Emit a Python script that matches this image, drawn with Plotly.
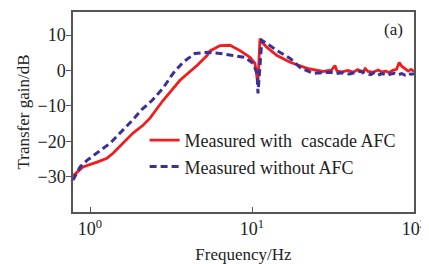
import plotly.graph_objects as go

# Measured with cascade AFC (red)
freq_with = [0.785, 0.905, 1.105, 1.273, 1.387, 1.598, 1.842, 2.124, 2.346, 2.822, 3.593,
             4.576, 5.274, 5.51, 6.35, 7.31, 8.43, 9.72, 10.43, 10.74, 10.89, 11.2, 11.5,
             12.38, 14.27, 17.2, 21.9, 27.4, 29, 31, 32.5, 33.5, 36, 39, 42, 45, 48, 50,
             52, 56, 60, 63, 67, 70, 74, 78, 81, 84, 88, 92, 96, 100]
gain_with = [-29.8, -27.3, -25.9, -24.8, -23.4, -20.6, -17.7, -15.5, -13.5, -8.5, -2.8,
             1.4, 4.2, 5.5, 7.0, 7.1, 5.6, 3.7, 2.0, -2.0, -3.0, 9.0, 8.0,
             6.5, 4.2, 2.3, 0.6, -0.3, -0.2, 0.1, 1.4, -0.2, -0.4, 0.0, -0.5, 0.2, -0.6, 0.5,
             -0.3, -0.5, 0.1, -0.4, -0.2, -0.6, 0.0, 0.3, 2.2, 1.2, 0.5, -0.2, 0.3, -0.3]

# Measured without AFC (blue dashed)
freq_without = [0.785, 0.868, 0.958, 1.105, 1.329, 1.532, 1.766, 2.094, 2.413, 2.822, 3.25,
                3.75, 4.45, 5.274, 6.35, 7.63, 9.06, 10.14, 10.74, 10.89, 11.05, 11.5,
                12.38, 14.27, 17.2, 19.8, 23.8, 30.3, 33, 36, 40, 44, 47, 50, 54, 57, 60,
                64, 68, 72, 76, 80, 84, 88, 92, 96, 100]
gain_without = [-31.0, -27.3, -25.4, -23.4, -20.6, -17.7, -14.8, -11.0, -8.5, -5.0, -0.9,
                2.3, 4.8, 5.1, 4.8, 4.2, 3.7, 2.0, -0.8, -6.5, -3.0, 8.5,
                7.6, 5.6, 3.4, 0.8, -0.8, -0.5, -0.9, -0.7, -1.0, -0.4, -0.2, -0.8, -1.2, -0.6, -1.3,
                -0.9, -1.4, -1.0, -0.8, -1.2, -0.9, -1.3, -0.8, -1.1, -0.9]

x_tickvals = [1, 10, 100]
x_ticktext = ["10<sup>0</sup>", "10<sup>1</sup>", "10<sup>2</sup>"]
y_tickvals = [10, 0, -10, -20, -30]

FONT = "Liberation Serif, Times New Roman, serif"
TXT = "#222"

fig = go.Figure()
fig.add_trace(go.Scatter(x=freq_with, y=gain_with, mode="lines",
                         name="Measured with  cascade AFC",
                         line=dict(color="#f21c1c", width=2.8)))
fig.add_trace(go.Scatter(x=freq_without, y=gain_without, mode="lines",
                         name="Measured without AFC",
                         line=dict(color="#3b2f9a", width=3, dash="7px,4px")))

fig.add_annotation(text="(a)", x=0.94, y=0.91, xref="paper", yref="paper",
                   xanchor="center", yanchor="middle",
                   showarrow=False, font=dict(family=FONT, size=17, color=TXT))

# page body has an 8px default margin: figure is shrunk by 8px to fit the 429x264 window
fig.update_layout(
    width=421, height=256,
    margin=dict(l=65, r=15, t=4, b=52),
    paper_bgcolor="white", plot_bgcolor="white",
    font=dict(family=FONT, size=18, color=TXT),
    showlegend=True,
    legend=dict(x=0.21, y=0.45, xanchor="left", yanchor="top",
                bgcolor="rgba(0,0,0,0)", font=dict(family=FONT, size=18, color=TXT),
                tracegroupgap=0, itemwidth=30),
    xaxis=dict(type="log", range=[-0.105, 2.0], tickvals=x_tickvals, ticktext=x_ticktext,
               ticks="inside", ticklen=5, tickcolor="#555", showgrid=False, zeroline=False,
               showline=True, linecolor="#555", linewidth=1.5, mirror=True,
               automargin=False,
               title=dict(text="Frequency/Hz", standoff=16, font=dict(size=17)),
               tickfont=dict(size=18)),
    yaxis=dict(range=[-40, 16.5], tickvals=y_tickvals, ticks="outside", ticklen=5,
               tickcolor="#555", showgrid=False, zeroline=False,
               showline=True, linecolor="#555", linewidth=1.5, mirror=True,
               automargin=False, ticklabelstandoff=-3,
               title=dict(text="Transfer gain/dB", standoff=4, font=dict(size=17)),
               tickfont=dict(size=18)),
)

fig.write_html("out.html")
